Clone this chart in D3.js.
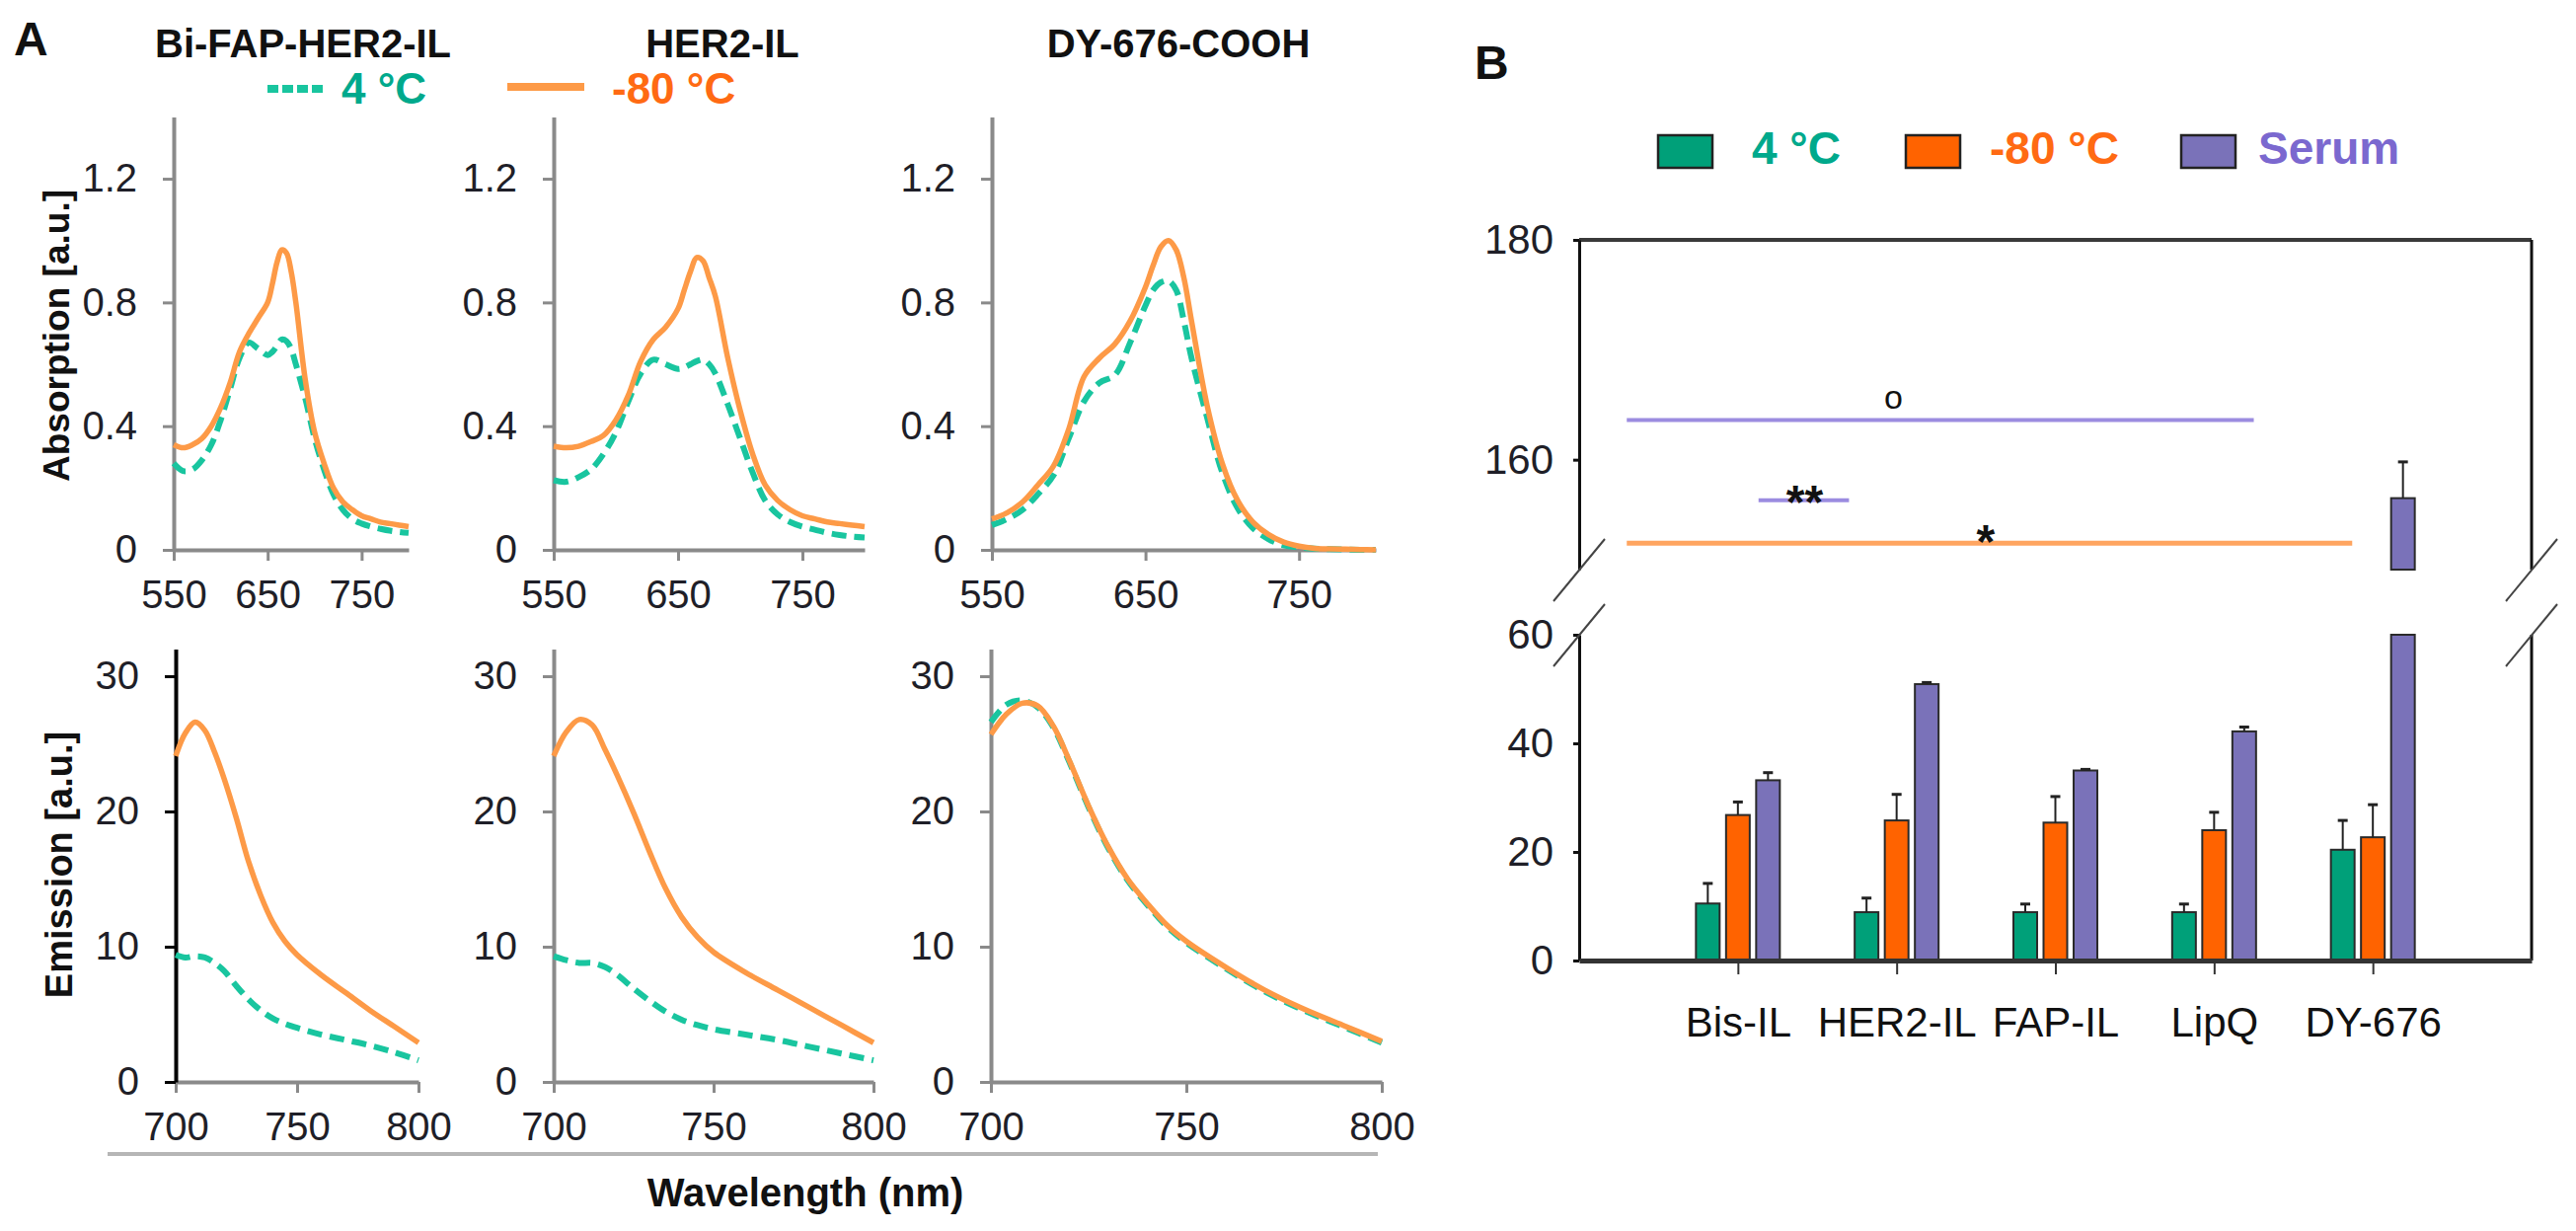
<!DOCTYPE html>
<html>
<head>
<meta charset="utf-8">
<script src="https://cdn.jsdelivr.net/npm/d3@7"></script>
<style>
  body { margin: 0; background: #fff; }
  text { font-family: "Liberation Sans", Arial, sans-serif; }
</style>
</head>
<body>
<svg id="chart"></svg>
<script>
// ---- panel A data: absorption spectra (nm -> a.u.)
const absWl = [550, 560, 570, 580, 590, 600, 610, 620, 630, 640, 650, 655, 660, 665, 670, 675, 680, 690, 700, 710, 720, 730, 740, 750, 760, 770, 780, 790, 800];
const absBiFrozen = [0.34, 0.33, 0.34, 0.36, 0.40, 0.46, 0.54, 0.64, 0.70, 0.75, 0.80, 0.86, 0.93, 0.97, 0.96, 0.90, 0.80, 0.55, 0.38, 0.28, 0.20, 0.155, 0.13, 0.11, 0.10, 0.09, 0.085, 0.08, 0.075];
const absBiCold = [0.28, 0.255, 0.26, 0.29, 0.34, 0.42, 0.52, 0.62, 0.67, 0.65, 0.63, 0.64, 0.66, 0.68, 0.675, 0.65, 0.60, 0.49, 0.36, 0.26, 0.18, 0.13, 0.10, 0.085, 0.075, 0.068, 0.062, 0.058, 0.055];
const absHerFrozen = [0.335, 0.33, 0.335, 0.35, 0.37, 0.42, 0.50, 0.61, 0.68, 0.72, 0.78, 0.84, 0.90, 0.945, 0.935, 0.88, 0.82, 0.62, 0.45, 0.31, 0.21, 0.16, 0.13, 0.11, 0.10, 0.09, 0.085, 0.08, 0.075];
const absHerCold = [0.225, 0.22, 0.235, 0.26, 0.31, 0.38, 0.48, 0.57, 0.615, 0.60, 0.585, 0.59, 0.60, 0.61, 0.615, 0.60, 0.57, 0.47, 0.36, 0.25, 0.16, 0.115, 0.09, 0.075, 0.065, 0.055, 0.048, 0.043, 0.04];
const absDyFrozen = [0.10, 0.12, 0.155, 0.21, 0.27, 0.39, 0.56, 0.62, 0.665, 0.74, 0.85, 0.92, 0.98, 1.0, 0.97, 0.88, 0.74, 0.47, 0.28, 0.16, 0.09, 0.05, 0.025, 0.012, 0.005, 0.003, 0.002, 0.001, 0.0];
const absDyCold = [0.08, 0.10, 0.13, 0.18, 0.24, 0.36, 0.48, 0.54, 0.565, 0.67, 0.79, 0.84, 0.865, 0.87, 0.84, 0.74, 0.62, 0.43, 0.25, 0.135, 0.07, 0.035, 0.015, 0.008, 0.004, 0.002, 0.001, 0.0, 0.0];

// ---- panel A data: emission spectra
const emWl = [700, 704, 708, 712, 716, 720, 725, 730, 735, 740, 745, 750, 760, 770, 780, 790, 800];
const emBiFrozen = [24.1, 25.8, 26.6, 26.0, 24.4, 22.4, 19.5, 16.3, 13.8, 11.8, 10.4, 9.4, 7.9, 6.6, 5.3, 4.1, 2.9];
const emBiCold = [9.4, 9.2, 9.3, 9.2, 8.8, 8.2, 7.1, 6.1, 5.3, 4.7, 4.3, 4.0, 3.5, 3.1, 2.7, 2.2, 1.6];
const emHerFrozen = [24.1, 25.9, 26.8, 26.4, 24.6, 22.6, 19.9, 17.0, 14.3, 12.2, 10.7, 9.6, 8.1, 6.8, 5.5, 4.2, 2.9];
const emHerCold = [9.3, 9.0, 8.8, 8.8, 8.5, 7.9, 6.9, 6.0, 5.2, 4.6, 4.2, 3.9, 3.5, 3.1, 2.6, 2.1, 1.6];
const emDyFrozen = [25.7, 27.2, 28.0, 27.8, 26.3, 23.8, 20.4, 17.4, 15.0, 13.2, 11.6, 10.4, 8.5, 6.8, 5.4, 4.2, 3.0];
const emDyCold = [26.6, 27.9, 28.2, 27.7, 26.2, 23.7, 20.3, 17.3, 14.9, 13.1, 11.5, 10.3, 8.4, 6.7, 5.3, 4.1, 2.9];

const sampleTitles = ["Bi-FAP-HER2-IL", "HER2-IL", "DY-676-COOH"];
const absTicksX = [550, 650, 750];
const absTicksY = [0, 0.4, 0.8, 1.2];
const emTicksX = [700, 750, 800];
const emTicksY = [0, 10, 20, 30];

// ---- panel B data
const categories = ["Bis-IL", "HER2-IL", "FAP-IL", "LipQ", "DY-676"];
const seriesNames = ["4 °C", "-80 °C", "Serum"];
const val4 = [10.5, 8.9, 8.9, 8.9, 20.4];
const err4 = [3.7, 2.6, 1.5, 1.5, 5.4];
const val80 = [26.8, 25.8, 25.4, 24.0, 22.7];
const err80 = [2.4, 4.8, 4.8, 3.3, 6.0];
const valSerum = [33.2, 50.9, 35.0, 42.2, 156.5];
const errSerum = [1.4, 0.3, 0.2, 0.8, 3.3];
const lowTicks = [0, 20, 40, 60];
const highTicks = [160, 180];
// significance bars: [from index, to index, value, label, label index, series]
const sigBars = [
  [-0.7, 3.25, 163.6, "o", 0.98, 2],
  [0.13, 0.70, 156.3, "**", 0.42, 2],
  [-0.7, 3.87, 152.4, "*", 1.56, 1]
];

// ---- styles
const W = 2610, H = 1247;
const cTeal = "#19c59f", cOrange = "#fd9a47";
const barFill = ["#00a079", "#ff6300", "#7a72b9"];
const legendText = ["#00a98c", "#ff6a13", "#7b68cf"];
const sigColor = ["#ffa560", "#ffa560", "#9b8ce0"];
const axisGray = "#8a8a8a";

const svg = d3.select("#chart").attr("width", W).attr("height", H);
svg.append("rect").attr("width", W).attr("height", H).attr("fill", "#fff");

// ================= panel A =================
const absCols = [[176, 414], [561, 876], [1005, 1394]];
const emCols = [[178, 424], [561, 885], [1004, 1400]];
const absY = d3.scaleLinear().domain([0, 1.4]).range([557, 118.4]);
const emY = d3.scaleLinear().domain([0, 32]).range([1096, 657.6]);

const absSets = [[absBiCold, absBiFrozen], [absHerCold, absHerFrozen], [absDyCold, absDyFrozen]];
const emSets = [[emBiCold, emBiFrozen], [emHerCold, emHerFrozen], [emDyCold, emDyFrozen]];

function spectrum(cols, yScale, wl, sets, xTicks, yTicks, yFmt, yAxisColor) {
  const x = d3.scaleLinear().domain([wl[0], wl[wl.length - 1]]).range(cols);
  const g = svg.append("g");

  const xAxis = g.append("g")
    .attr("transform", `translate(0,${yScale(0)})`)
    .call(d3.axisBottom(x).tickValues(xTicks).tickSize(11).tickSizeOuter(0).tickPadding(20));
  xAxis.select(".domain").attr("stroke", axisGray).attr("stroke-width", 4);
  xAxis.selectAll(".tick line").attr("stroke", axisGray).attr("stroke-width", 3);

  const yAxis = g.append("g")
    .attr("transform", `translate(${cols[0]},0)`)
    .call(d3.axisLeft(yScale).tickValues(yTicks).tickFormat(yFmt).tickSize(11).tickSizeOuter(0).tickPadding(26));
  yAxis.select(".domain").attr("stroke", yAxisColor).attr("stroke-width", 4);
  yAxis.selectAll(".tick line").attr("stroke", yAxisColor === "#000" ? "#000" : axisGray).attr("stroke-width", 3);

  g.selectAll(".tick text").attr("font-size", 40).attr("fill", "#1f1f28")
    .attr("font-family", "Liberation Sans, Arial, sans-serif");

  const line = d3.line().x(d => x(d[0])).y(d => yScale(d[1])).curve(d3.curveCatmullRom.alpha(0.5));
  g.append("path").datum(wl.map((w, i) => [w, sets[0][i]]))
    .attr("d", line).attr("fill", "none").attr("stroke", cTeal)
    .attr("stroke-width", 6).attr("stroke-dasharray", "15,8");
  g.append("path").datum(wl.map((w, i) => [w, sets[1][i]]))
    .attr("d", line).attr("fill", "none").attr("stroke", cOrange)
    .attr("stroke-width", 5.5);
}

const absFmt = d => d === 0 ? "0" : d3.format(".1f")(d);
absCols.forEach((c, i) => spectrum(c, absY, absWl, absSets[i], absTicksX, absTicksY, absFmt, axisGray));
emCols.forEach((c, i) => spectrum(c, emY, emWl, emSets[i], emTicksX, emTicksY, d3.format("d"), i === 0 ? "#000" : axisGray));

// titles
const titleX = [307, 732, 1194];
svg.selectAll(".stitle").data(sampleTitles).enter().append("text")
  .attr("x", (d, i) => titleX[i]).attr("y", 58)
  .attr("text-anchor", "middle").attr("font-size", 40).attr("font-weight", "bold")
  .attr("fill", "#111").text(d => d);

svg.append("text").attr("x", 14).attr("y", 56).attr("font-size", 48)
  .attr("font-weight", "bold").attr("fill", "#111").text("A");

// legend A
svg.append("line").attr("x1", 271).attr("x2", 330).attr("y1", 90).attr("y2", 90)
  .attr("stroke", cTeal).attr("stroke-width", 8).attr("stroke-dasharray", "11,4");
svg.append("text").attr("x", 346).attr("y", 105).attr("font-size", 44).attr("font-weight", "bold")
  .attr("fill", legendText[0]).text(seriesNames[0]);
svg.append("line").attr("x1", 514).attr("x2", 592).attr("y1", 88).attr("y2", 88)
  .attr("stroke", cOrange).attr("stroke-width", 8);
svg.append("text").attr("x", 620).attr("y", 105).attr("font-size", 44).attr("font-weight", "bold")
  .attr("fill", legendText[1]).text(seriesNames[1]);

// axis titles
svg.append("text").attr("transform", "translate(70,340) rotate(-90)")
  .attr("text-anchor", "middle").attr("font-size", 37).attr("font-weight", "bold")
  .attr("fill", "#111").text("Absorption [a.u.]");
svg.append("text").attr("transform", "translate(73,876) rotate(-90)")
  .attr("text-anchor", "middle").attr("font-size", 38).attr("font-weight", "bold")
  .attr("fill", "#111").text("Emission [a.u.]");

svg.append("line").attr("x1", 109).attr("x2", 1396).attr("y1", 1169).attr("y2", 1169)
  .attr("stroke", "#b6b6b6").attr("stroke-width", 4);
svg.append("text").attr("x", 816).attr("y", 1222).attr("text-anchor", "middle")
  .attr("font-size", 40).attr("font-weight", "bold").attr("fill", "#111").text("Wavelength (nm)");

// ================= panel B =================
const xB = d3.scaleLinear().domain([-1, 5]).range([1600, 2565]);
const yLow = d3.scaleLinear().domain([0, 60]).range([973, 643]);
const yHigh = d3.scaleLinear().domain([150, 180]).range([577, 243]);
const gB = svg.append("g");

svg.append("text").attr("x", 1494).attr("y", 80).attr("font-size", 48)
  .attr("font-weight", "bold").attr("fill", "#111").text("B");

// legend B
const legX = [1680, 1931, 2210], legTx = [1775, 2016, 2288];
seriesNames.forEach((s, j) => {
  gB.append("rect").attr("x", legX[j]).attr("y", 137).attr("width", 55).attr("height", 33)
    .attr("fill", barFill[j]).attr("stroke", "#222").attr("stroke-width", 2.5);
  gB.append("text").attr("x", legTx[j]).attr("y", 166).attr("font-size", 46)
    .attr("font-weight", "bold").attr("fill", legendText[j]).text(s);
});

// frame
gB.append("line").attr("x1", xB(-1)).attr("x2", xB(5)).attr("y1", yHigh(180)).attr("y2", yHigh(180))
  .attr("stroke", "#3a3a3a").attr("stroke-width", 4);
gB.append("line").attr("x1", xB(5)).attr("x2", xB(5)).attr("y1", yHigh(180)).attr("y2", yHigh(150))
  .attr("stroke", "#111").attr("stroke-width", 3);
gB.append("line").attr("x1", xB(5)).attr("x2", xB(5)).attr("y1", yLow(60)).attr("y2", yLow(0))
  .attr("stroke", "#111").attr("stroke-width", 3);

const axLow = gB.append("g").attr("transform", `translate(${xB(-1)},0)`)
  .call(d3.axisLeft(yLow).tickValues(lowTicks).tickSize(6).tickSizeOuter(0).tickPadding(20));
const axHigh = gB.append("g").attr("transform", `translate(${xB(-1)},0)`)
  .call(d3.axisLeft(yHigh).tickValues(highTicks).tickSize(6).tickSizeOuter(0).tickPadding(20));
[axLow, axHigh].forEach(a => {
  a.select(".domain").attr("stroke", "#111").attr("stroke-width", 3);
  a.selectAll(".tick line").attr("stroke", "#111").attr("stroke-width", 3);
  a.selectAll(".tick text").attr("font-size", 42).attr("fill", "#1f1f28")
    .attr("font-family", "Liberation Sans, Arial, sans-serif");
});

// bars
const vals = [val4, val80, valSerum], errs = [err4, err80, errSerum];
const barW = 24, barStep = 30.5;
categories.forEach((c, i) => {
  vals.forEach((arr, j) => {
    const v = arr[i], e = errs[j][i];
    const cx = xB(i) + (j - 1) * barStep;
    const top = v > 60 ? yLow(60) : yLow(v);
    gB.append("rect").attr("x", cx - barW / 2).attr("y", top).attr("width", barW)
      .attr("height", yLow(0) - top).attr("fill", barFill[j]).attr("stroke", "#2a2a2a").attr("stroke-width", 2);
    let yTop, yErr;
    if (v > 60) {
      // broken axis: the rest of the bar goes on the upper segment
      yTop = yHigh(v); yErr = yHigh(v + e);
      gB.append("rect").attr("x", cx - barW / 2).attr("y", yTop).attr("width", barW)
        .attr("height", yHigh(150) - yTop).attr("fill", barFill[j]).attr("stroke", "#2a2a2a").attr("stroke-width", 2);
    } else {
      yTop = yLow(v); yErr = yLow(v + e);
    }
    gB.append("line").attr("x1", cx).attr("x2", cx).attr("y1", yTop).attr("y2", yErr)
      .attr("stroke", "#222").attr("stroke-width", 2);
    gB.append("line").attr("x1", cx - 5).attr("x2", cx + 5).attr("y1", yErr).attr("y2", yErr)
      .attr("stroke", "#222").attr("stroke-width", 3);
  });
});

// bottom axis
const axX = gB.append("g").attr("transform", `translate(0,${yLow(0)})`)
  .call(d3.axisBottom(xB).tickValues([0, 1, 2, 3, 4]).tickFormat(i => categories[i])
    .tickSize(14).tickSizeOuter(0).tickPadding(33));
axX.select(".domain").attr("stroke", "#333").attr("stroke-width", 5);
axX.selectAll(".tick line").attr("stroke", "#333").attr("stroke-width", 2);
axX.selectAll(".tick text").attr("font-size", 42).attr("fill", "#111")
  .attr("font-family", "Liberation Sans, Arial, sans-serif");

// axis break marks
[xB(-1), xB(5)].forEach(xx => {
  [yHigh(150), yLow(60)].forEach(yy => {
    gB.append("line").attr("x1", xx + 26).attr("y1", yy - 31).attr("x2", xx - 26).attr("y2", yy + 32)
      .attr("stroke", "#444").attr("stroke-width", 2);
  });
});

// significance bars
sigBars.forEach(([a, b, v, lab, lx, s]) => {
  gB.append("line").attr("x1", xB(a)).attr("x2", xB(b)).attr("y1", yHigh(v)).attr("y2", yHigh(v))
    .attr("stroke", sigColor[s]).attr("stroke-width", s === 1 ? 5 : 4);
  const isO = lab === "o";
  gB.append("text").attr("x", xB(lx)).attr("text-anchor", "middle")
    .attr("y", isO ? yHigh(v) - 12 : yHigh(v) + (lab === "**" ? 18 : 15))
    .attr("font-size", isO ? 34 : 48).attr("font-weight", isO ? "normal" : "bold")
    .attr("fill", "#111").text(lab);
});
</script>
</body>
</html>
